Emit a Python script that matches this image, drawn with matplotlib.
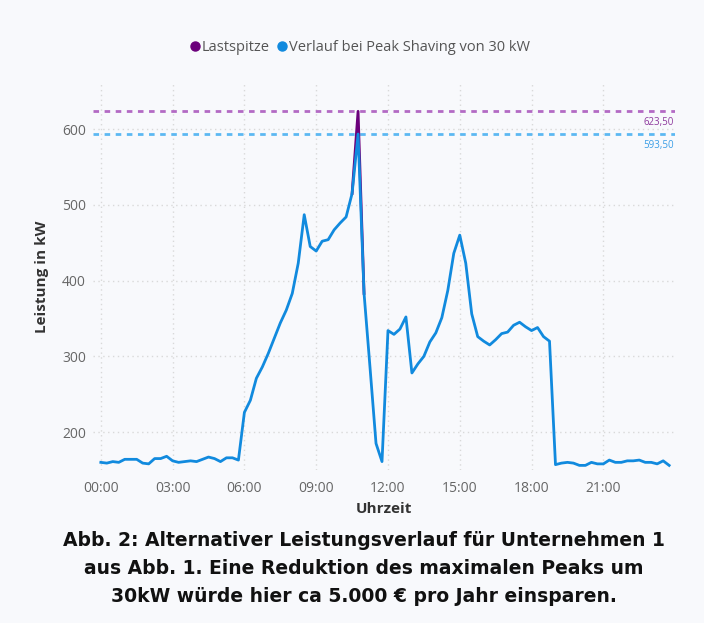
import numpy as np
import matplotlib.pyplot as plt
from matplotlib.lines import Line2D

# Leistung in kW, 15-Minuten-Werte (00:00 bis 23:45), Verlauf bei Peak Shaving
leistung = [
    160, 159, 161, 160, 164, 164, 164, 159, 158, 165, 165, 168,
    162, 160, 161, 162, 161, 164, 167, 165, 161, 166, 166, 163,
    226, 242, 271, 286, 304, 324, 344, 361, 383, 423, 487, 445,
    439, 452, 454, 467, 476, 484, 515, 593.5, 383, 285, 185, 161,
    334, 329, 336, 352, 278, 290, 300, 319, 331, 351, 387, 436,
    460, 423, 356, 326, 320, 315, 322, 330, 332, 341, 345, 339,
    334, 338, 326, 320, 157, 159, 160, 159, 156, 156, 160, 158,
    158, 163, 160, 160, 162, 162, 163, 160, 160, 158, 162, 156,
]
# ursprüngliche Lastspitze (10:30 - 11:00)
spitze_zeit = ["10:30", "10:45", "11:00"]
spitze_wert = [515, 623.5, 383]

lastspitze = 623.5
peak_shaving = 593.5

tick_labels = ["00:00", "03:00", "06:00", "09:00", "12:00", "15:00", "18:00", "21:00"]
y_ticks = [200, 300, 400, 500, 600]

bg = "#f8f9fc"
blau = "#118ade"
lila = "#6b007b"

plt.rcParams["font.family"] = ["Open Sans", "DejaVu Sans"]

fig = plt.figure(figsize=(7.04, 6.23), dpi=100, facecolor=bg)
ax = fig.add_axes([0.132, 0.2457, 0.827, 0.620], facecolor=bg)

x = np.arange(len(leistung)) * 0.25
def to_h(s):
    h, m = s.split(":")
    return int(h) + int(m) / 60
xs = [to_h(s) for s in spitze_zeit]

ax.plot(xs, spitze_wert, color=lila, lw=2.0, zorder=3)
ax.plot(x, leistung, color=blau, lw=2.0, zorder=4)

ax.axhline(lastspitze, color="#b36ac4", lw=2, ls=(0, (2, 2)), zorder=2)
ax.axhline(peak_shaving, color="#5cb8f2", lw=2, ls=(0, (2, 2)), zorder=2)
ax.text(23.95, lastspitze - 8, "623,50", color="#8e3a9e", fontsize=7,
        ha="right", va="top")
ax.text(23.95, peak_shaving - 8, "593,50", color="#3a9ee6", fontsize=7,
        ha="right", va="top")

ax.set_xlim(-0.33, 24.0)
ax.set_ylim(150, 660)
ax.set_xticks([to_h(t) for t in tick_labels])
ax.set_xticklabels(tick_labels)
ax.set_yticks(y_ticks)
ax.tick_params(length=0, labelsize=10, colors="#666666")
ax.tick_params(axis="x", pad=8)
ax.tick_params(axis="y", pad=5)
ax.grid(True, color="#d9d9d9", ls=(0, (1, 2.5)), lw=1)
ax.set_axisbelow(True)
for s in ax.spines.values():
    s.set_visible(False)

ax.set_xlabel("Uhrzeit", fontsize=11, color="#333333", fontweight="bold", labelpad=4)
ax.set_ylabel("Leistung in kW", fontsize=11, color="#333333", fontweight="bold", labelpad=9)

handles = [
    Line2D([], [], marker="o", ls="none", color=lila, markersize=6.5, label="Lastspitze"),
    Line2D([], [], marker="o", ls="none", color=blau, markersize=6.5,
           label="Verlauf bei Peak Shaving von 30 kW"),
]
fig.legend(handles=handles, loc="center", bbox_to_anchor=(0.512, 0.924), ncol=2,
           frameon=False, fontsize=10.5, handlelength=0.5, handletextpad=0.2,
           columnspacing=0.6, labelcolor="#555555")

caption = [
    "Abb. 2: Alternativer Leistungsverlauf für Unternehmen 1",
    "aus Abb. 1. Eine Reduktion des maximalen Peaks um",
    "30kW würde hier ca 5.000 € pro Jahr einsparen.",
]
for k, line in enumerate(caption):
    fig.text(0.517, 1 - (540 + k * 28.5) / 623, line, ha="center", va="center",
             fontsize=13.5, fontweight="bold", color="#111111",
             family=["DejaVu Sans"])

fig.savefig("out.png", dpi=100, facecolor=bg)
